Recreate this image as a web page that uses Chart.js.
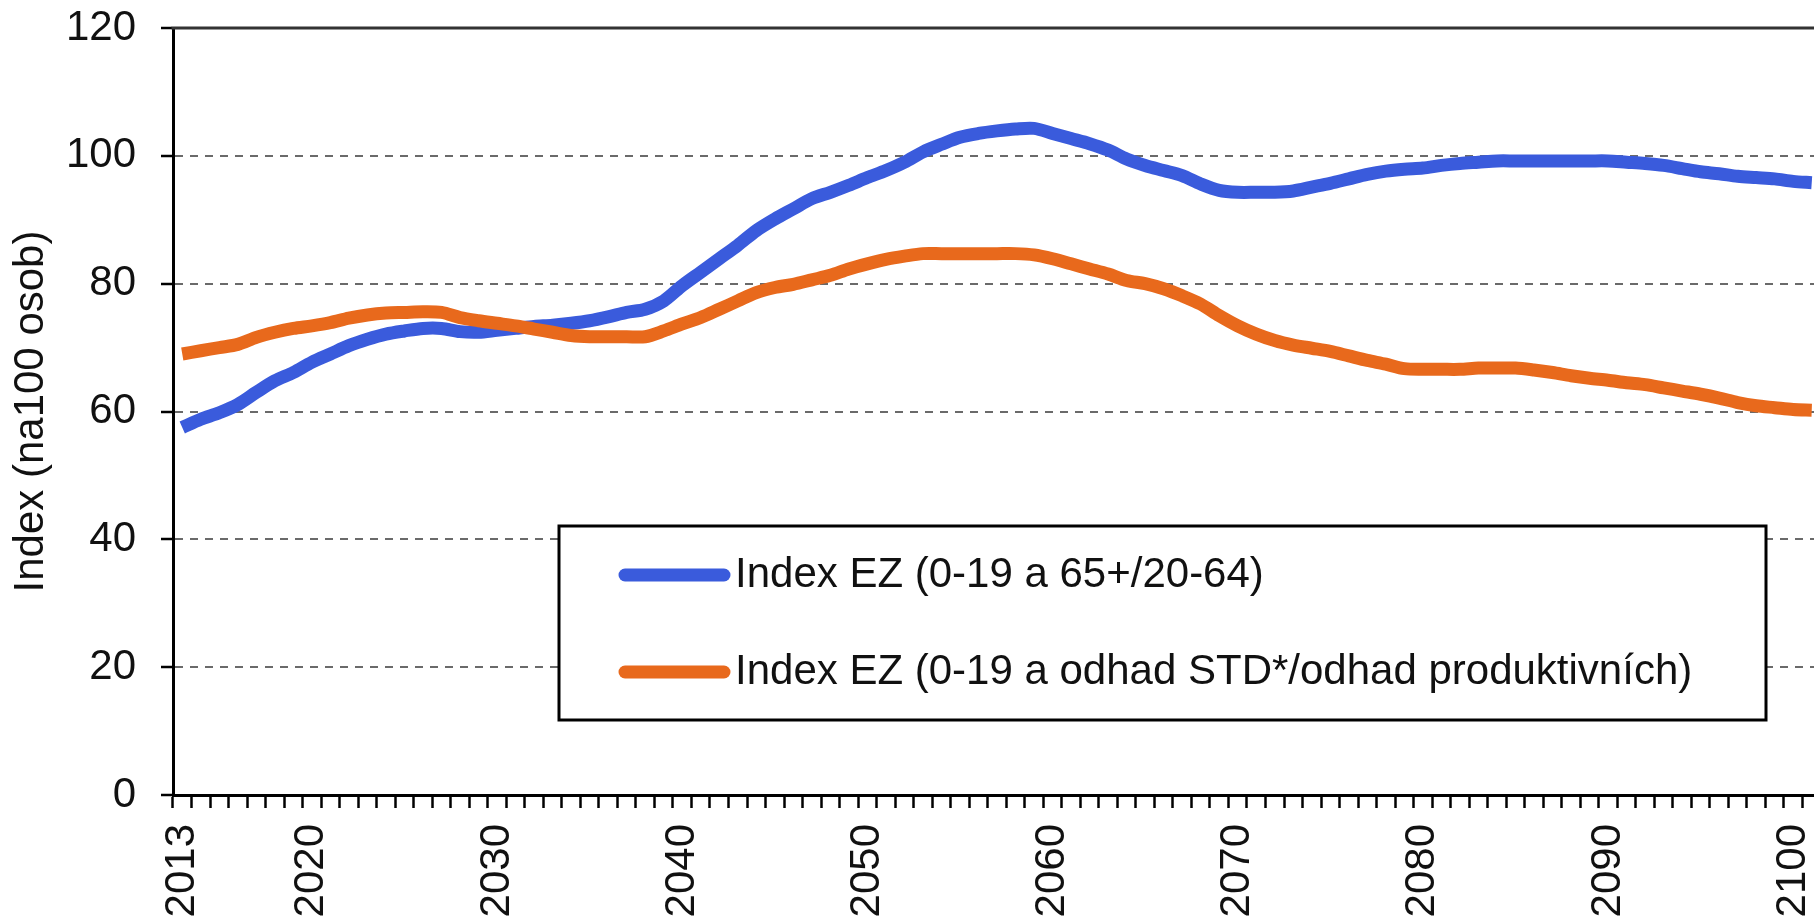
<!DOCTYPE html>
<html>
<head>
<meta charset="utf-8">
<title>Index EZ</title>
<script src="https://cdn.jsdelivr.net/npm/chart.js@4"></script>
<style>
  html, body { margin: 0; padding: 0; background: #fff; overflow: hidden; }
  /* the plot runs a little past the right window edge */
  #wrap { width: 1830px; height: 916px; }
</style>
</head>
<body>
<div id="wrap"><canvas id="chart"></canvas></div>
<script>
const years = [
  2013, 2014, 2015, 2016, 2017, 2018, 2019, 2020, 2021, 2022,
  2023, 2024, 2025, 2026, 2027, 2028, 2029, 2030, 2031, 2032,
  2033, 2034, 2035, 2036, 2037, 2038, 2039, 2040, 2041, 2042,
  2043, 2044, 2045, 2046, 2047, 2048, 2049, 2050, 2051, 2052,
  2053, 2054, 2055, 2056, 2057, 2058, 2059, 2060, 2061, 2062,
  2063, 2064, 2065, 2066, 2067, 2068, 2069, 2070, 2071, 2072,
  2073, 2074, 2075, 2076, 2077, 2078, 2079, 2080, 2081, 2082,
  2083, 2084, 2085, 2086, 2087, 2088, 2089, 2090, 2091, 2092,
  2093, 2094, 2095, 2096, 2097, 2098, 2099, 2100, 2101
];

// years that get a printed label on the x axis
const labeledYears = [2013, 2020, 2030, 2040, 2050, 2060, 2070, 2080, 2090, 2100];

const yTicks = [0, 20, 40, 60, 80, 100, 120];

// 0-19 a 65+ / 20-64
const indexEZ = [
  57.5, 58.8, 59.8, 61.1, 63.0, 64.8, 66.1, 67.7, 69.0, 70.3,
  71.3, 72.1, 72.6, 73.0, 73.0, 72.5, 72.4, 72.7, 73.0, 73.3,
  73.5, 73.8, 74.2, 74.8, 75.5, 76.0, 77.3, 79.7, 81.8, 83.9,
  86.0, 88.3, 90.1, 91.7, 93.3, 94.3, 95.4, 96.6, 97.7, 99.0,
  100.6, 101.8, 102.9, 103.5, 103.9, 104.2, 104.3, 103.5, 102.7, 101.9,
  100.9, 99.5, 98.5, 97.7, 96.9, 95.6, 94.6, 94.3, 94.3, 94.3,
  94.5, 95.1, 95.7, 96.4, 97.1, 97.6, 97.9, 98.1, 98.5, 98.8,
  99.0, 99.2, 99.2, 99.2, 99.2, 99.2, 99.2, 99.2, 99.0, 98.8,
  98.5, 98.0, 97.5, 97.2, 96.8, 96.6, 96.4, 96.0, 95.8
];

// 0-19 a odhad STD* / odhad produktivnich
const indexEZStd = [
  69.0, 69.5, 70.0, 70.5, 71.6, 72.4, 73.0, 73.4, 73.9, 74.6,
  75.1, 75.4, 75.5, 75.6, 75.5, 74.7, 74.2, 73.8, 73.4, 72.9,
  72.4, 71.9, 71.7, 71.7, 71.7, 71.7, 72.6, 73.7, 74.7, 76.0,
  77.3, 78.6, 79.4, 79.9, 80.6, 81.3, 82.3, 83.1, 83.8, 84.3,
  84.7, 84.7, 84.7, 84.7, 84.7, 84.7, 84.5, 83.9, 83.1, 82.3,
  81.5, 80.5, 80.0, 79.2, 78.1, 76.8, 75.0, 73.4, 72.1, 71.1,
  70.4, 69.9, 69.4, 68.7, 68.0, 67.4, 66.7, 66.6, 66.6, 66.6,
  66.8, 66.8, 66.8, 66.5, 66.1, 65.6, 65.2, 64.9, 64.5, 64.2,
  63.7, 63.2, 62.7, 62.1, 61.4, 60.9, 60.6, 60.3, 60.2
];

const seriesLabels = [
  "Index EZ (0-19 a 65+/20-64)",
  "Index EZ (0-19 a odhad STD*/odhad produktivních)"
];
const seriesColors = ["#3a5bdc", "#e8691c"];

const FONT = '"Liberation Sans", Arial, sans-serif';
Chart.defaults.font.family = FONT;
Chart.defaults.color = "#111";

// solid frame line along the top of the plot + boxed legend inside the plot
const frameAndLegend = {
  id: "frameAndLegend",
  afterDatasetsDraw(chart, args, opts) {
    const { ctx, chartArea } = chart;
    ctx.save();
    ctx.strokeStyle = "#333";
    ctx.lineWidth = 3;
    ctx.beginPath();
    ctx.moveTo(chartArea.left - 1.5, chartArea.top);
    ctx.lineTo(chartArea.right, chartArea.top);
    ctx.stroke();

    const b = opts.box;
    ctx.fillStyle = "#fff";
    ctx.fillRect(b.x, b.y, b.w, b.h);
    ctx.strokeStyle = "#000";
    ctx.lineWidth = 3;
    ctx.strokeRect(b.x, b.y, b.w, b.h);

    ctx.font = "42px " + FONT;
    ctx.textBaseline = "middle";
    ctx.textAlign = "left";
    chart.data.datasets.forEach((ds, i) => {
      const y = b.y + opts.rowY[i];
      ctx.strokeStyle = ds.borderColor;
      ctx.lineWidth = 13;
      ctx.lineCap = "round";
      ctx.beginPath();
      ctx.moveTo(b.x + 66, y);
      ctx.lineTo(b.x + 165, y);
      ctx.stroke();
      ctx.fillStyle = "#111";
      ctx.fillText(ds.label, b.x + 176, y);
    });
    ctx.restore();
  }
};

new Chart(document.getElementById("chart"), {
  type: "line",
  data: {
    labels: years,
    datasets: [
      {
        label: seriesLabels[0],
        data: indexEZ,
        borderColor: seriesColors[0],
        borderWidth: 13,
        pointRadius: 0,
        tension: 0.3,
        order: 2
      },
      {
        label: seriesLabels[1],
        data: indexEZStd,
        borderColor: seriesColors[1],
        borderWidth: 13,
        pointRadius: 0,
        tension: 0.3,
        order: 1
      }
    ]
  },
  options: {
    responsive: true,
    maintainAspectRatio: false,
    animation: false,
    layout: { padding: { left: 0, top: 28, right: 9, bottom: 0 } },
    plugins: {
      legend: { display: false },
      tooltip: { enabled: false },
      frameAndLegend: {
        box: { x: 559, y: 526, w: 1207, h: 194 },
        rowY: [49, 146]
      }
    },
    scales: {
      x: {
        type: "category",
        offset: true,
        grid: {
          offset: true,
          drawOnChartArea: false,
          drawTicks: true,
          tickLength: 13,
          tickColor: "#000",
          tickWidth: 2.5
        },
        border: { color: "#000", width: 3 },
        ticks: {
          autoSkip: false,
          minRotation: 90,
          maxRotation: 90,
          padding: 16,
          font: { size: 42 },
          color: "#111",
          callback(value) {
            const y = years[value];
            return labeledYears.includes(y) ? String(y) : "";
          }
        },
        afterFit(scale) {
          scale.height = 121;
          scale.paddingLeft = 0;
          scale.paddingRight = 0;
        }
      },
      y: {
        min: 0,
        max: 120,
        afterBuildTicks(scale) {
          scale.ticks = yTicks.map(v => ({ value: v }));
        },
        grid: {
          color: ctx => (ctx.tick && (ctx.tick.value === 0 || ctx.tick.value === 120))
            ? "rgba(0,0,0,0)" : "#6a6a6a",
          lineWidth: 2,
          tickLength: 12,
          tickColor: "#000",
          tickWidth: 2.5
        },
        border: { color: "#000", width: 3, dash: [8, 7] },
        ticks: {
          padding: 25,
          font: { size: 42 },
          color: "#111"
        },
        title: {
          display: true,
          text: "Index (na100 osob)",
          font: { size: 42 },
          color: "#111",
          padding: { top: 6, bottom: 0 }
        },
        afterFit(scale) {
          scale.width = 173;
          scale.paddingTop = 0;
          scale.paddingBottom = 0;
        }
      }
    }
  },
  plugins: [frameAndLegend]
});
</script>
</body>
</html>
